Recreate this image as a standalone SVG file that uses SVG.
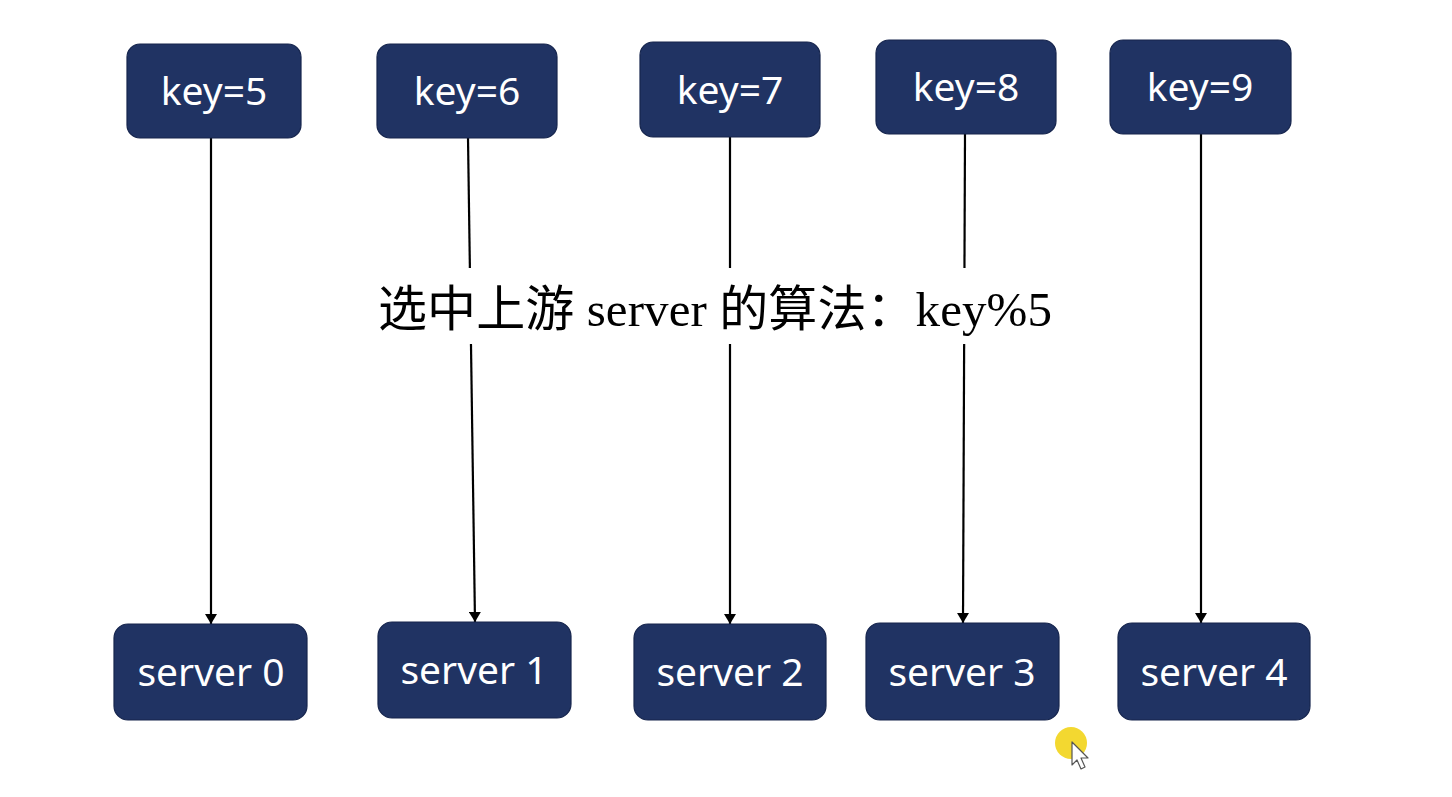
<svg xmlns="http://www.w3.org/2000/svg" width="1452" height="797" viewBox="0 0 1452 797">
  <defs>
    <marker id="arrow" viewBox="0 0 10 12" refX="10" refY="6" markerWidth="11" markerHeight="12" markerUnits="userSpaceOnUse" orient="auto">
      <path d="M0,0 L10,6 L0,12 Z" fill="#000"/>
    </marker>
    <style>
      .box { fill: #203363; stroke: #16254d; stroke-width: 1.2; }
      .lbl { fill: #ffffff; font-family: "Noto Sans", "Open Sans", sans-serif; font-size: 39px; text-anchor: middle; }
      .conn { stroke: #000; stroke-width: 2.2; fill: none; marker-end: url(#arrow); }
      .title { fill: #000; font-family: "Liberation Serif", "Noto Sans CJK SC", serif; font-size: 49px; }
    </style>
  </defs>
  <rect width="1452" height="797" fill="#ffffff"/>

  <g id="connectors">
    <line class="conn" x1="211" y1="138" x2="211" y2="624"/>
    <line class="conn" x1="468" y1="138" x2="475" y2="622"/>
    <line class="conn" x1="730" y1="137" x2="730" y2="624"/>
    <line class="conn" x1="965" y1="134" x2="963" y2="623"/>
    <line class="conn" x1="1201" y1="134" x2="1201" y2="623"/>
  </g>

  <g id="title">
    <rect x="372" y="268" width="686" height="76" fill="#ffffff"/>
    <text class="title" x="378" y="326" textLength="674" lengthAdjust="spacing">选中上游 server 的算法：key%5</text>
  </g>

  <g id="key5"><rect class="box" x="127" y="44" width="174" height="94" rx="13"/><text class="lbl" x="214" y="105">key=5</text></g>
  <g id="key6"><rect class="box" x="377" y="44" width="180" height="94" rx="13"/><text class="lbl" x="467" y="105">key=6</text></g>
  <g id="key7"><rect class="box" x="640" y="42" width="180" height="95" rx="13"/><text class="lbl" x="730" y="104">key=7</text></g>
  <g id="key8"><rect class="box" x="876" y="40" width="180" height="94" rx="13"/><text class="lbl" x="966" y="101">key=8</text></g>
  <g id="key9"><rect class="box" x="1110" y="40" width="181" height="94" rx="13"/><text class="lbl" x="1200" y="101">key=9</text></g>

  <g id="server0"><rect class="box" x="114" y="624" width="193" height="96" rx="14"/><text class="lbl" x="211" y="686">server 0</text></g>
  <g id="server1"><rect class="box" x="378" y="622" width="193" height="96" rx="14"/><text class="lbl" x="474" y="684">server 1</text></g>
  <g id="server2"><rect class="box" x="634" y="624" width="192" height="96" rx="14"/><text class="lbl" x="730" y="686">server 2</text></g>
  <g id="server3"><rect class="box" x="866" y="623" width="193" height="97" rx="14"/><text class="lbl" x="962" y="686">server 3</text></g>
  <g id="server4"><rect class="box" x="1118" y="623" width="192" height="97" rx="14"/><text class="lbl" x="1214" y="686">server 4</text></g>

  <g id="cursor">
    <circle cx="1071" cy="743" r="16" fill="#f2d41a" opacity="0.9"/>
    <path d="M1072,742 L1072,765 L1077,760 L1081,769 L1085,767 L1081,758 L1088,758 Z" fill="#ffffff" stroke="#555" stroke-width="1.2" stroke-linejoin="round"/>
  </g>
</svg>
